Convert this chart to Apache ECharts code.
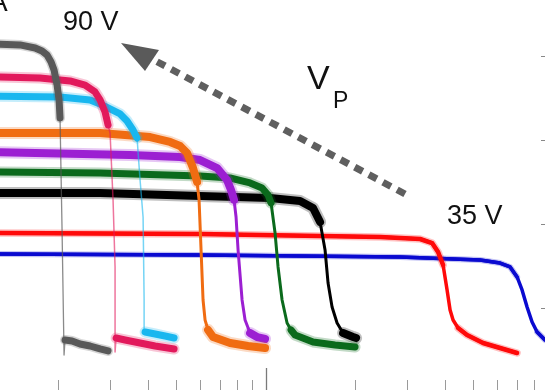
<!DOCTYPE html>
<html><head><meta charset="utf-8">
<script src="https://cdn.jsdelivr.net/npm/echarts@6/dist/echarts.min.js"></script>
<style>html,body{margin:0;padding:0;background:#fff}#c{width:545px;height:390px}</style>
</head><body><div id="c"></div>
<script>
// ---- axis ticks (time axis is logarithmic) ----
const xMinorTicks = [0.2,0.3,0.4,0.5,0.6,0.7,0.8,0.9,2,3,4,5,6,7,8];
const xMajorTicks = [1];
const xRange = [0.1272, 8.70];
const yTicks = [1,2,3,4];
const yRange = [0.0274, 4.670];
const voltageLabels = ['90 V', '35 V'];

// ---- traces: [time, signal]; top = plateau, drop = fall, tail = after fall ----
const gray90Top  = [[0.12,4.146],[0.1486,4.135],[0.1670,4.099],[0.1762,4.063],[0.1832,4.015],[0.1890,3.932],[0.1934,3.837],[0.1980,3.658],[0.2011,3.480],[0.2026,3.266]];
const gray90Drop = [[0.2058,1.932],[0.2090,0.444]];
const gray90Tail = [[0.2106,0.623],[0.2224,0.611],[0.2366,0.575],[0.2557,0.551],[0.2763,0.516],[0.2940,0.492]];

const crimsonTop  = [[0.12,3.754],[0.1735,3.742],[0.2190,3.706],[0.2460,3.658],[0.2658,3.575],[0.2763,3.480],[0.2872,3.337],[0.2940,3.182]];
const crimsonDrop = [[0.2986,3.087],[0.3056,2.290],[0.3104,1.492],[0.3104,0.480]];
const crimsonTail = [[0.3129,0.646],[0.3355,0.623],[0.3768,0.587],[0.4233,0.551],[0.4905,0.515]];

const cyanTop  = [[0.12,3.527],[0.2026,3.515],[0.2557,3.480],[0.2763,3.432],[0.2986,3.373],[0.3228,3.313],[0.3406,3.230],[0.3568,3.123],[0.3681,3.027]];
const cyanDrop = [[0.3768,2.527],[0.3857,2.087],[0.3888,1.099],[0.3888,0.694]];
const cyanTail = [[0.3917,0.718],[0.4233,0.694],[0.4574,0.670],[0.4905,0.646]];

const orangeTop  = [[0.12,3.087],[0.2763,3.087],[0.4072,3.039],[0.4754,2.980],[0.5138,2.932],[0.5424,2.849],[0.5682,2.670],[0.5861,2.504]];
const orangeDrop = [[0.5953,2.290],[0.6046,1.694],[0.6140,1.099],[0.6236,0.861]];
const orangeTail = [[0.6384,0.742],[0.6636,0.658],[0.7571,0.587],[0.8700,0.551],[0.9931,0.527]];

const purpleTop  = [[0.12,2.861],[0.3486,2.825],[0.5138,2.801],[0.6000,2.765],[0.6846,2.670],[0.7396,2.527],[0.7628,2.408],[0.7808,2.290]];
const purpleDrop = [[0.7930,2.087],[0.8055,1.694],[0.8309,1.099],[0.8505,0.861]];
const purpleTail = [[0.8841,0.706],[0.9333,0.658],[0.9931,0.635]];

const greenTop  = [[0.12,2.623],[0.2763,2.611],[0.6000,2.575],[0.7571,2.551],[0.8841,2.492],[0.9702,2.432],[1.0164,2.349],[1.0403,2.254]];
const greenDrop = [[1.0731,1.896],[1.0983,1.492],[1.1331,1.099],[1.1778,0.825]];
const greenTail = [[1.2148,0.742],[1.2530,0.682],[1.4405,0.599],[1.7088,0.563],[1.9953,0.539]];

const blackTop  = [[0.12,2.373],[0.2763,2.373],[0.6000,2.337],[1.0323,2.313],[1.3027,2.277],[1.4405,2.194],[1.5212,2.027]];
const blackDrop = [[1.5812,1.694],[1.6184,1.301],[1.6695,1.015],[1.7355,0.825]];
const blackTail = [[1.8181,0.706],[1.9652,0.658],[2.011,0.646]];

const red35Top  = [[0.12,1.896],[0.6000,1.885],[2.4225,1.849],[3.3037,1.825],[3.6254,1.777],[3.7979,1.670],[3.9478,1.516]];
const red35Drop = [[4.0722,1.218],[4.1679,0.980],[4.2658,0.861]];
const red35Tail = [[4.4345,0.766],[4.7543,0.682],[5.3827,0.587],[6.1404,0.527],[7.0063,0.468]];

const blue35Top  = [[0.12,1.647],[0.6000,1.635],[2.8285,1.611],[5.2592,1.575],[6.1404,1.539],[6.6359,1.492],[7.0063,1.373]];
const blue35Drop = [[7.2827,1.218],[7.5705,1.015],[7.8705,0.837]];
const blue35Tail = [[8.1826,0.718],[8.70,0.623],[9.190,0.587]];

// ---- styles (kept apart from data) ----
const curves = [
  {top:blue35Top, drop:blue35Drop, tail:blue35Tail, color:'#0a0ad0', core:3.5, halo:6, thin:3.5, thinOp:1},
  {top:red35Top, drop:red35Drop, tail:red35Tail, color:'#ff0a0a', core:4.5, halo:7.5, thin:3.5, thinOp:1},
  {top:blackTop, drop:blackDrop, tail:blackTail, color:'#000000', core:8, halo:12, thin:3, thinOp:1},
  {top:greenTop, drop:greenDrop, tail:greenTail, color:'#0b6a1c', core:7, halo:11, thin:3, thinOp:1},
  {top:purpleTop, drop:purpleDrop, tail:purpleTail, color:'#9c1fd2', core:8, halo:12, thin:3, thinOp:1},
  {top:orangeTop, drop:orangeDrop, tail:orangeTail, color:'#f06c12', core:8, halo:12, thin:3, thinOp:1},
  {top:cyanTop, drop:cyanDrop, tail:cyanTail, color:'#19b7ef', core:7, halo:11, thin:1.5, thinOp:0.6},
  {top:crimsonTop, drop:crimsonDrop, tail:crimsonTail, color:'#e2195c', core:7, halo:11, thin:1.5, thinOp:0.6},
  {top:gray90Top, drop:gray90Drop, tail:gray90Tail, color:'#595959', core:7, halo:10, thin:1.3, thinOp:0.7}
];

const L = p => [Math.log10(p[0]), p[1]];
const series = [];
function ln(data, color, width, opacity) {
  return {type:'line', data:data.map(L), symbol:'none', silent:true, animation:false,
    lineStyle:{color:color, width:width, opacity:opacity, cap:'round', join:'round'}, clip:true};
}
curves.forEach(c => {
  const full = c.top.concat(c.drop, c.tail);
  [c.top, c.tail].forEach(seg => {
    series.push(ln(seg, c.color, c.halo, 0.25));
    series.push(ln(seg, c.color, c.core, 1));
  });
  series.push(ln(full, c.color, c.thin, c.thinOp));
});

const chart = echarts.init(document.getElementById('c'), null, {renderer:'canvas'});
const baseX = {
  type:'value', position:'bottom', min:Math.log10(xRange[0]), max:Math.log10(xRange[1]),
  axisLine:{show:false, onZero:false}, axisLabel:{show:false}, splitLine:{show:false}
};
chart.setOption({
  animation:false,
  grid:{left:0, right:0, top:0, bottom:0, containLabel:false},
  xAxis:[
    Object.assign({}, baseX, {axisTick:{show:true, inside:true, length:10, customValues:xMinorTicks.map(Math.log10), lineStyle:{color:'#9a9a9a', width:1}}}),
    Object.assign({}, baseX, {axisTick:{show:true, inside:true, length:22, customValues:xMajorTicks.map(Math.log10), lineStyle:{color:'#7a7a7a', width:1.3}}})
  ],
  yAxis:{type:'value', position:'right', min:yRange[0], max:yRange[1],
    axisLine:{show:false, onZero:false}, axisLabel:{show:false}, splitLine:{show:false},
    axisTick:{show:true, inside:true, length:4, customValues:yTicks, lineStyle:{color:'#888'}}},
  series: series,
  graphic:[
    {type:'text', x:-11, y:3, style:{text:'A', fontSize:28, fontFamily:'Liberation Sans', fill:'#111', verticalAlign:'middle'}},
    {type:'text', x:63, y:22.7, style:{text:voltageLabels[0], fontSize:27, fontFamily:'Liberation Sans', fill:'#111', verticalAlign:'middle'}},
    {type:'text', x:447, y:217, style:{text:voltageLabels[1], fontSize:27, fontFamily:'Liberation Sans', fill:'#111', verticalAlign:'middle'}},
    {type:'text', x:307, y:79.5, style:{text:'V', fontSize:34, fontFamily:'Liberation Sans', fill:'#111', verticalAlign:'middle'}},
    {type:'text', x:333, y:101.5, style:{text:'P', fontSize:23, fontFamily:'Liberation Sans', fill:'#111', verticalAlign:'middle'}},
    {type:'polyline', shape:{points:[[405,194],[152,59]]}, style:{stroke:'#5f5f5f', lineWidth:7, lineDash:[9,7], fill:null}},
    {type:'polygon', shape:{points:[[121,43],[159,50],[145,71]]}, style:{fill:'#5a5a5a'}}
  ]
});
</script></body></html>
